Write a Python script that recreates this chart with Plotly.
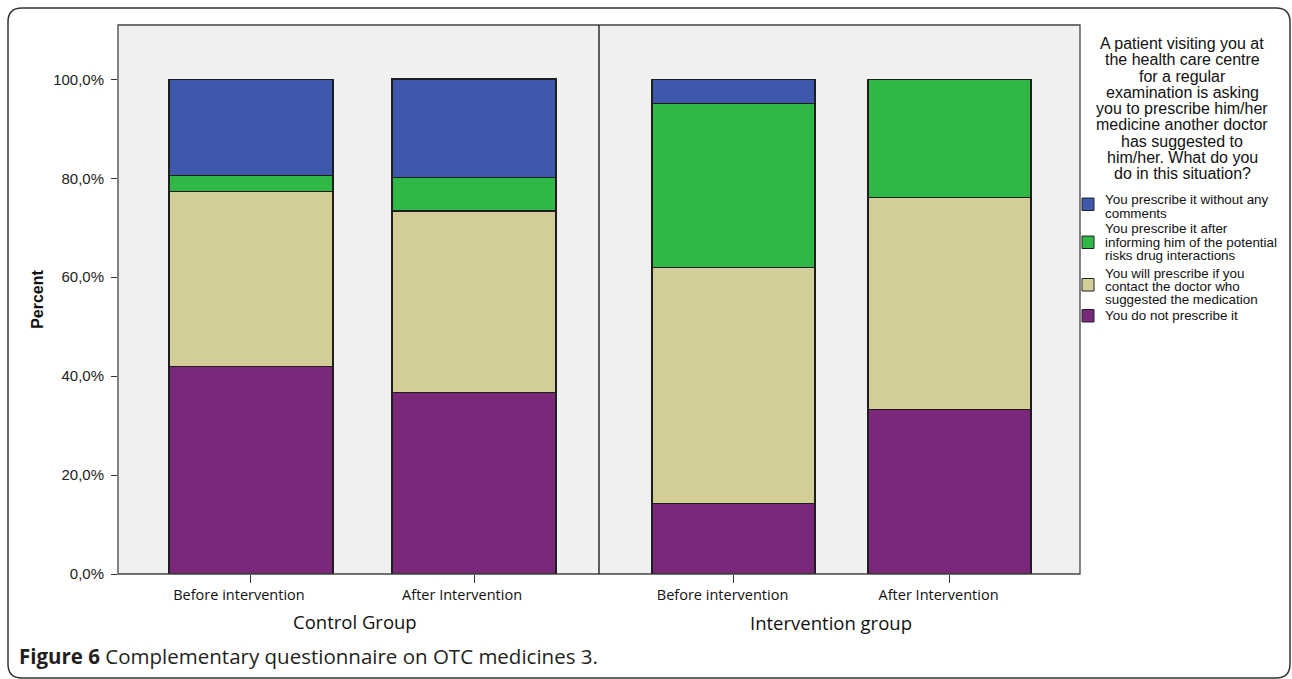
import plotly.graph_objects as go

# ---------------- data (percent of respondents) ----------------
categories = ["Before intervention", "After Intervention"]
groups = ["Control Group", "Intervention group"]

series_names = [
    "You do not prescribe it",
    "You will prescribe if you contact the doctor who suggested the medication",
    "You prescribe it after informing him of the potential risks drug interactions",
    "You prescribe it without any comments",
]
# how the legend wraps each series name (top-of-legend order is reversed)
series_label_lines = [
    ["You do not prescribe it"],
    ["You will prescribe if you", "contact the doctor who", "suggested the medication"],
    ["You prescribe it after", "informing him of the potential", "risks drug interactions"],
    ["You prescribe it without any", "comments"],
]
series_colors = ["#7b287b", "#d3ce98", "#2fb848", "#3e59ab"]

control_values = [
    [41.9, 36.7],   # do not prescribe
    [35.5, 36.7],   # prescribe if contact doctor
    [3.2, 6.7],     # prescribe after informing
    [19.4, 20.0],   # prescribe without comments
]
intervention_values = [
    [14.3, 33.3],
    [47.6, 42.9],
    [33.3, 23.8],
    [4.8, 0.0],
]

y_ticks = [0, 20, 40, 60, 80, 100]
y_tick_labels = [f"{v:.1f}%".replace(".", ",") for v in y_ticks]

legend_title_lines = [
    "A patient visiting you at",
    "the health care centre",
    "for a regular",
    "examination is asking",
    "you to prescribe him/her",
    "medicine another doctor",
    "has suggested to",
    "him/her. What do you",
    "do in this situation?",
]
caption = "<b>Figure 6</b> Complementary questionnaire on OTC medicines 3."

# ---------------- layout geometry (pixels) ----------------
W, H = 1292, 679
L, R, T, B = 118, 1080, 25, 574


def px(x):
    return (x - L) / (R - L)


def py(y):
    return (B - y) / (B - T)


ARIAL = "Liberation Sans, Arial, sans-serif"
HUMANIST = "Open Sans, Lato, sans-serif"

fig = go.Figure()

for i, name in enumerate(series_names):
    fig.add_trace(go.Bar(
        x=categories, y=control_values[i], name=name,
        marker=dict(color=series_colors[i], line=dict(color="#1e1e1e", width=1.2)),
        width=0.735, xaxis="x", yaxis="y", showlegend=False,
    ))
    fig.add_trace(go.Bar(
        x=categories, y=intervention_values[i], name=name,
        marker=dict(color=series_colors[i], line=dict(color="#1e1e1e", width=1.2)),
        width=0.755, xaxis="x2", yaxis="y", showlegend=False,
    ))

tick_font = dict(family=HUMANIST, size=14.5, color="#111")

fig.update_layout(
    width=W, height=H,
    margin=dict(l=L, r=W - R, t=T, b=H - B),
    paper_bgcolor="white",
    plot_bgcolor="#f0f0f0",
    barmode="stack",
    showlegend=False,
    xaxis=dict(
        domain=[0, 0.5], type="category", range=[-0.596, 1.56],
        ticks="outside", ticklen=8, tickcolor="#333", tickfont=tick_font,
        ticklabelshift=-12,
        showgrid=False, zeroline=False, showline=False,
    ),
    xaxis2=dict(
        domain=[0.5, 1], type="category", range=[-0.623, 1.604], anchor="y",
        ticks="outside", ticklen=8, tickcolor="#333", tickfont=tick_font,
        ticklabelshift=-11,
        showgrid=False, zeroline=False, showline=False,
    ),
    yaxis=dict(
        range=[0, 111], tickvals=y_ticks, ticktext=y_tick_labels,
        ticks="outside", ticklen=6, tickcolor="#333",
        tickfont=dict(family=ARIAL, size=15, color="#222"),
        ticklabelstandoff=4,
        showgrid=False, zeroline=False, showline=False,
        title=dict(text="<b>Percent</b>",
                   font=dict(family=ARIAL, size=16, color="#111"),
                   standoff=5),
    ),
)

# plot frame and divider
fig.add_shape(type="rect", xref="paper", yref="paper", x0=0, x1=1, y0=0, y1=1,
              line=dict(color="#444", width=1.3), layer="above")
fig.add_shape(type="line", xref="paper", yref="paper", x0=0.5, x1=0.5, y0=0, y1=1,
              line=dict(color="#111", width=1.3), layer="above")

# outer rounded border
x0b, y0b, x1b, y1b, r = 8, 8, 1290, 678, 14
path = (
    f"M {px(x0b + r)},{py(y0b)} L {px(x1b - r)},{py(y0b)} "
    f"Q {px(x1b)},{py(y0b)} {px(x1b)},{py(y0b + r)} "
    f"L {px(x1b)},{py(y1b - r)} Q {px(x1b)},{py(y1b)} {px(x1b - r)},{py(y1b)} "
    f"L {px(x0b + r)},{py(y1b)} Q {px(x0b)},{py(y1b)} {px(x0b)},{py(y1b - r)} "
    f"L {px(x0b)},{py(y0b + r)} Q {px(x0b)},{py(y0b)} {px(x0b + r)},{py(y0b)} Z"
)
fig.add_shape(type="path", xref="paper", yref="paper", path=path,
              line=dict(color="#333", width=1.5))

# group titles under each panel
for gname, cx, cy in zip(groups, [355, 831], [621, 622]):
    fig.add_annotation(
        x=px(cx), y=py(cy), xref="paper", yref="paper", text=gname,
        showarrow=False, xanchor="center", yanchor="middle",
        font=dict(family=HUMANIST, size=18.5, color="#111"),
    )

# legend title (one annotation per line for tight spacing)
for k, line in enumerate(legend_title_lines):
    fig.add_annotation(
        x=px(1182), y=py(43.5 + k * 16.25), xref="paper", yref="paper",
        text=line, showarrow=False, xanchor="center", yanchor="middle",
        font=dict(family=ARIAL, size=16, color="#111"),
    )

# legend entries (top to bottom: reversed stacking order)
entry_first_line_y = [200, 229, 273, 315.5]
entry_swatch = [(198, 210.5), (236, 248.5), (278.5, 291), (309.5, 322)]
for slot, idx in enumerate(reversed(range(len(series_names)))):
    y_top, y_bot = entry_swatch[slot]
    fig.add_shape(type="rect", xref="paper", yref="paper",
                  x0=px(1082), x1=px(1094), y0=py(y_bot), y1=py(y_top),
                  fillcolor=series_colors[idx], line=dict(color="#222", width=1))
    for j, line in enumerate(series_label_lines[idx]):
        fig.add_annotation(
            x=px(1103), y=py(entry_first_line_y[slot] + j * 13.3),
            xref="paper", yref="paper", text=line, showarrow=False,
            xanchor="left", yanchor="middle",
            font=dict(family=ARIAL, size=13.4, color="#111"),
        )

# caption
fig.add_annotation(
    x=px(17), y=py(656), xref="paper", yref="paper", text=caption,
    showarrow=False, xanchor="left", yanchor="middle",
    font=dict(family=HUMANIST, size=20.5, color="#231f20"),
)

fig.write_html("out.html", config={"displayModeBar": False},
               post_script="document.body.style.margin='0px';")
